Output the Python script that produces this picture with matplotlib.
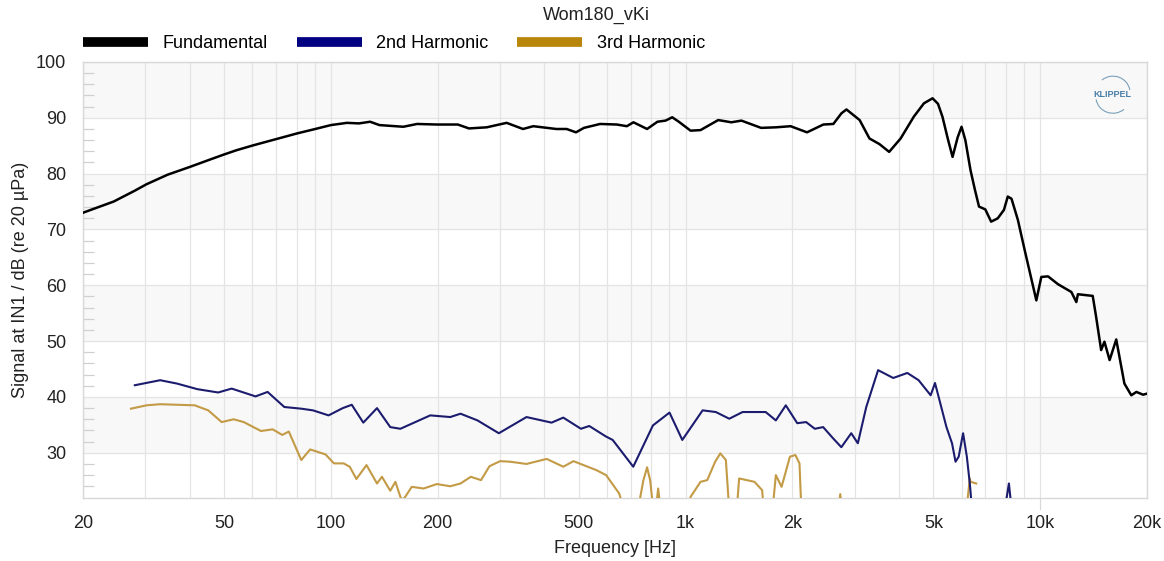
import numpy as np
import matplotlib
matplotlib.use("Agg")
import matplotlib.pyplot as plt
from matplotlib.lines import Line2D
from matplotlib.patches import Arc
import matplotlib.transforms as mtransforms

plt.rcParams['font.family'] = ['Liberation Sans', 'DejaVu Sans']

nan = np.nan

title = "Wom180_vKi"
series_names = ["Fundamental", "2nd Harmonic", "3rd Harmonic"]

fund_f = [20, 24.4, 27.9, 30.2, 34.6, 40, 45.5, 49.8, 54.2, 60.6, 72.1, 80.2, 89, 100, 111, 120, 129,
          137, 160, 175, 199, 228, 245, 275, 313, 348, 372, 432, 462, 491, 517, 574, 640, 683, 713,
          779, 833, 878, 917, 957, 1033, 1102, 1236, 1346, 1437, 1633, 1797, 1978, 2200, 2446, 2610,
          2750, 2842, 3096, 3300, 3520, 3750, 4040, 4400, 4700, 4970, 5150, 5300, 5500, 5660, 5850,
          6000, 6150, 6360, 6550, 6720, 7000, 7270, 7590, 7900, 8100, 8300, 8650, 9040, 9750, 10070,
          10520, 11220, 12240, 12640, 12770, 14060, 14370, 14850, 15170, 15690, 16380, 17270, 18060,
          18670, 19500, 20000]
fund_db = [73.0, 75.0, 76.9, 78.1, 79.8, 81.2, 82.5, 83.4, 84.2, 85.1, 86.4, 87.2, 87.9, 88.7, 89.1,
           89.0, 89.3, 88.7, 88.4, 88.9, 88.8, 88.8, 88.1, 88.3, 89.1, 88.0, 88.5, 88.0, 88.0, 87.4,
           88.2, 88.9, 88.8, 88.5, 89.2, 88.0, 89.3, 89.5, 90.1, 89.3, 87.7, 87.8, 89.6, 89.2, 89.5,
           88.2, 88.3, 88.5, 87.4, 88.8, 88.9, 90.8, 91.5, 89.6, 86.3, 85.3, 83.9, 86.3, 90.2, 92.6,
           93.5, 92.5, 90.2, 86.0, 83.0, 86.5, 88.4, 86.0, 80.6, 77.0, 74.1, 73.6, 71.4, 72.0, 73.5,
           75.9, 75.5, 71.7, 66.3, 57.3, 61.5, 61.6, 60.2, 58.8, 57.0, 58.4, 58.1, 54.4, 48.4, 49.9,
           46.6, 50.3, 42.4, 40.3, 40.9, 40.4, 40.6]

h2_f = [28, 33, 36.8, 42, 48.1, 52.5, 61.3, 66.3, 73.9, 82.5, 89, 98.5, 108, 114.5, 123.4, 134.9,
        147, 157, 190.6, 217, 232, 259, 297.5, 356, 419, 452, 507, 535, 597, 623, 712, 809, 901, 979,
        1117, 1217, 1328, 1448, 1682, 1797, 1917, 2065, 2187, 2314, 2443, 2605, 2749, 2932, 3060,
        3232, 3490, 3850, 4220, 4540, 4910, 5050, 5200, 5440, 5640, 5770, 5890, 6060, 6210, 6330,
        6420, nan, 7950, 8160, 8300]
h2_db = [42.1, 43.0, 42.4, 41.4, 40.8, 41.5, 40.1, 40.9, 38.2, 37.9, 37.6, 36.7, 38.0, 38.6, 35.4,
         38.0, 34.6, 34.3, 36.7, 36.4, 37.0, 35.8, 33.5, 36.4, 35.4, 36.3, 34.3, 34.8, 32.9, 32.3,
         27.5, 34.9, 37.2, 32.3, 37.6, 37.3, 36.1, 37.3, 37.3, 35.8, 38.5, 35.3, 35.5, 34.3, 34.6,
         32.6, 31.0, 33.5, 31.7, 38.2, 44.8, 43.4, 44.3, 43.0, 40.3, 42.5, 39.4, 34.6, 31.7, 28.4,
         29.3, 33.5, 29.3, 24.5, 20.0, nan, 20.0, 24.5, 20.0]

h3_f = [27.3, 30.2, 33, 41.3, 45.1, 49.2, 53.2, 56.8, 63.5, 68.5, 72.9, 76.1, 82.5, 87.4, 96.6, 102,
        108.6, 113, 118, 126, 134.9, 139.3, 147, 152, 157, 159, 162, 169, 182.6, 199, 217, 232, 248,
        265, 280, 300, 320, 356, 406, 452, 483, 560, 597, 650, 670, nan, 735, 760, 779, 795, 810, nan,
        825, 837, 850, nan, 1010, 1033, 1102, 1151, 1212, 1253, 1299, 1320, 1330, nan, 1395, 1416,
        1564, 1644, 1660, nan, 1760, 1797, 1865, 1969, 2040, 2095, 2120, nan, 2700, 2730, 2760, nan,
        6200, 6330, 6360, 6600]
h3_db = [37.9, 38.5, 38.7, 38.5, 37.6, 35.5, 36.0, 35.5, 33.9, 34.2, 33.2, 33.8, 28.7, 30.6, 29.7,
         28.1, 28.1, 27.5, 25.3, 27.8, 24.5, 25.7, 23.2, 24.8, 22.1, 21.5, 22.1, 23.9, 23.6, 24.4,
         24.0, 24.5, 25.7, 25.1, 27.6, 28.5, 28.4, 28.0, 28.9, 27.5, 28.5, 26.9, 26.0, 22.7, 20.0,
         nan, 20.0, 25.0, 27.4, 25.0, 20.0, nan, 20.0, 23.6, 20.0, nan, 20.0, 22.1, 24.8, 25.1, 28.4,
         29.9, 28.7, 22.1, 20.0, nan, 20.0, 25.4, 24.8, 23.3, 20.0, nan, 20.0, 26.0, 23.9, 29.3,
         29.6, 28.1, 20.0, nan, 20.0, 22.6, 20.0, nan, 20.0, 25.4, 24.8, 24.5]

x_ticks = [20, 50, 100, 200, 500, 1000, 2000, 5000, 10000, 20000]
x_tick_labels = ["20", "50", "100", "200", "500", "1k", "2k", "5k", "10k", "20k"]
y_ticks = [30, 40, 50, 60, 70, 80, 90, 100]

colors = ["#000000", "#1c1c6e", "#c39a45"]
legend_colors = ["#000000", "#000080", "#b8860b"]

FS = 13
W, H = 1164, 561
fig = plt.figure(figsize=(W / 100, H / 100), dpi=100)
ax = fig.add_axes([83 / W, 1 - 498 / H, (1147 - 83) / W, (498 - 62) / H])

ymin, ymax = 21.9, 100
ax.set_xscale('log')
ax.set_xlim(20, 20000)
ax.set_ylim(ymin, ymax)

# alternating bands
for lo in [30, 50, 70, 90]:
    ax.axhspan(lo, lo + 10, color='#f8f8f8', zorder=0, lw=0)

# vertical grid lines
grid_f = []
for dec in [10, 100, 1000, 10000]:
    for m in range(1, 10):
        v = dec * m
        if 20 <= v <= 20000:
            grid_f.append(v)
for v in grid_f:
    ax.axvline(v, color='#e4e4e4', lw=0.9, zorder=1)
for v in y_ticks:
    ax.axhline(v, color='#e4e4e4', lw=0.9, zorder=1)

# small extension of the 10k line below the axis
trans = mtransforms.blended_transform_factory(ax.transData, ax.transAxes)
ax.plot([10000, 10000], [0, -0.025], transform=trans, color='#d8d8d8', lw=0.9, clip_on=False)

ax.plot(fund_f, fund_db, color=colors[0], lw=1.8, zorder=5)
ax.plot(h2_f, h2_db, color=colors[1], lw=1.5, zorder=4)
ax.plot(h3_f, h3_db, color=colors[2], lw=1.5, zorder=3)

ax.set_xticks(x_ticks)
ax.set_xticklabels(x_tick_labels)
ax.xaxis.set_minor_locator(matplotlib.ticker.NullLocator())
ax.set_yticks(y_ticks)
ax.set_yticks(np.arange(24, 100, 2), minor=True)
ax.tick_params(axis='y', which='major', length=0, labelsize=FS, pad=12, colors='#222222')
ax.tick_params(axis='y', which='minor', direction='in', length=8, color='#d0d0d0', width=0.9)
ax.tick_params(axis='x', which='major', length=0, labelsize=FS, pad=12, colors='#222222')

for s in ax.spines.values():
    s.set_color('#d8d8d8')
    s.set_linewidth(1.0)

ax.set_xlabel("Frequency [Hz]", fontsize=FS, color='#222222', labelpad=6)
ax.set_ylabel("Signal at IN1 / dB (re 20 µPa)", fontsize=FS, color='#222222', labelpad=5)

fig.text(596 / W, 1 - 15 / H, title, ha='center', va='center', fontsize=FS, color='#222222')

handles = [Line2D([0], [0], color=c, lw=7, solid_capstyle='butt') for c in legend_colors]
fig.legend(handles, series_names, loc='center left', bbox_to_anchor=(83 / W, 1 - 44 / H),
           ncol=3, frameon=False, fontsize=FS, handlelength=3.6, handletextpad=0.8,
           columnspacing=1.6, borderaxespad=0, borderpad=0)

# KLIPPEL logo
ax.text(0.985, 0.925, "KLIPPEL", transform=ax.transAxes, ha='right', va='center',
        fontsize=6.5, fontweight='bold', color='#4a7fa8', zorder=6)
ax.add_patch(Arc((0.968, 0.93), 0.032, 0.075, transform=ax.transAxes, theta1=20, theta2=110,
                 color='#7a9fba', lw=0.8, zorder=6))
ax.add_patch(Arc((0.968, 0.92), 0.032, 0.075, transform=ax.transAxes, theta1=200, theta2=290,
                 color='#7a9fba', lw=0.8, zorder=6))

fig.savefig("out.png", dpi=100)
